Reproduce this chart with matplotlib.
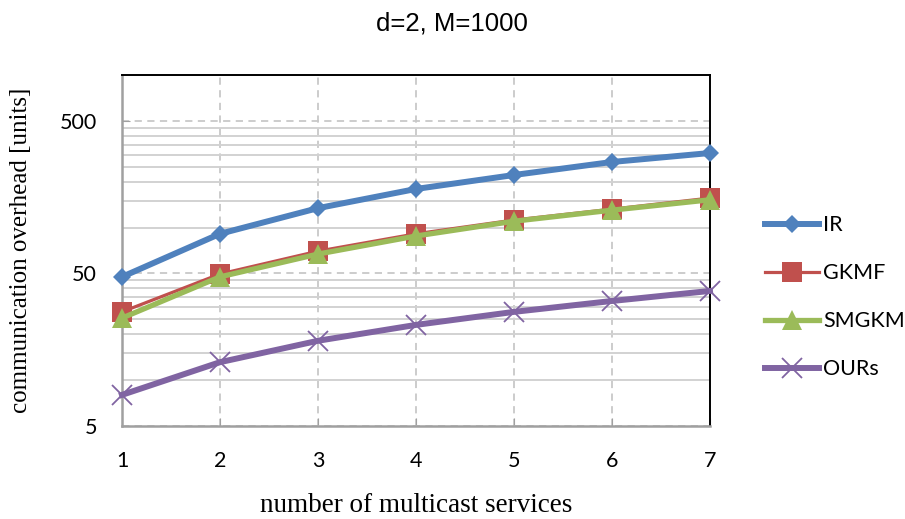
import matplotlib
matplotlib.use('Agg')
import matplotlib.pyplot as plt
import numpy as np
from matplotlib.ticker import FixedLocator, NullFormatter, FixedFormatter

services = [1, 2, 3, 4, 5, 6, 7]
ir = [47.5, 91, 134, 179, 221, 269, 308]
gkmf = [28, 49.6, 70, 91, 112, 132, 156]
smgkm = [25.5, 47.5, 67, 88, 110, 130, 152]
ours = [8, 13.1, 18.1, 23, 28, 33, 38.4]

major_ticks = [5, 50, 500]
minor_ticks = [5 * k for k in range(2, 10)] + [50 * k for k in range(2, 10)] + [1000]

fig = plt.figure(figsize=(9.05, 5.19), dpi=100)
ax = fig.add_axes([0.1348, 0.1792, 0.6497, 0.6763])

ax.plot(services, ir, c='#4F81BD', lw=4.3, marker='D', ms=9.5, mew=0,
        label='IR', clip_on=False, zorder=5)
ax.plot(services, gkmf, c='#C0504D', lw=2.3, marker='s', ms=14, mew=0,
        label='GKMF', clip_on=False, zorder=5)
ax.plot(services, smgkm, c='#9BBB59', lw=3.8, marker='^', ms=14, mew=0,
        label='SMGKM', clip_on=False, zorder=6)
ax.plot(services, ours, c='#8064A2', lw=4.3, marker='x', ms=14, mew=1.3,
        label='OURs', clip_on=False, zorder=5)

ax.set_yscale('log')
ax.set_ylim(5, 1000)
ax.set_xlim(1, 7)
ax.yaxis.set_major_locator(FixedLocator(major_ticks))
ax.yaxis.set_major_formatter(FixedFormatter([str(v) for v in major_ticks]))
ax.yaxis.set_minor_locator(FixedLocator(minor_ticks))
ax.yaxis.set_minor_formatter(NullFormatter())
ax.set_xticks(services)

ax.grid(True, which='major', axis='both', color='#C8C8C8', ls=(0, (4, 3)), lw=1.3)
ax.grid(True, which='minor', axis='y', color='#D2D2D2', ls='-', lw=1.4)
ax.set_axisbelow(True)

tick_font = 'Lato'
ax.tick_params(axis='both', which='major', direction='in', length=6,
               color='#A0A0A0', labelsize=15.5)
ax.tick_params(axis='y', which='minor', direction='in', length=0)
ax.tick_params(axis='y', pad=18)
ax.tick_params(axis='x', pad=18)
for lbl in ax.get_xticklabels() + ax.get_yticklabels():
    lbl.set_fontfamily(tick_font)

for side in ['left', 'bottom']:
    ax.spines[side].set_color('#A0A0A0')
    ax.spines[side].set_linewidth(1.8)
for side in ['top', 'right']:
    ax.spines[side].set_color('#000000')
    ax.spines[side].set_linewidth(1.4)

ax.set_xlabel('number of multicast services', fontfamily='Liberation Serif',
              fontsize=19.5, labelpad=16)
ax.set_ylabel('communication overhead [units]', fontfamily='Liberation Serif',
              fontsize=18, labelpad=20)
fig.text(0.4995, 0.955, 'd=2, M=1000', ha='center', va='center',
         fontfamily='Liberation Sans', fontsize=18.5)

fig.legend(loc='center left', bbox_to_anchor=(0.836, 0.427), frameon=False,
           prop={'family': tick_font, 'size': 15.5}, handlelength=2.5,
           labelspacing=1.3, handletextpad=0.2, borderaxespad=0)

fig.savefig('out.png', dpi=100)
